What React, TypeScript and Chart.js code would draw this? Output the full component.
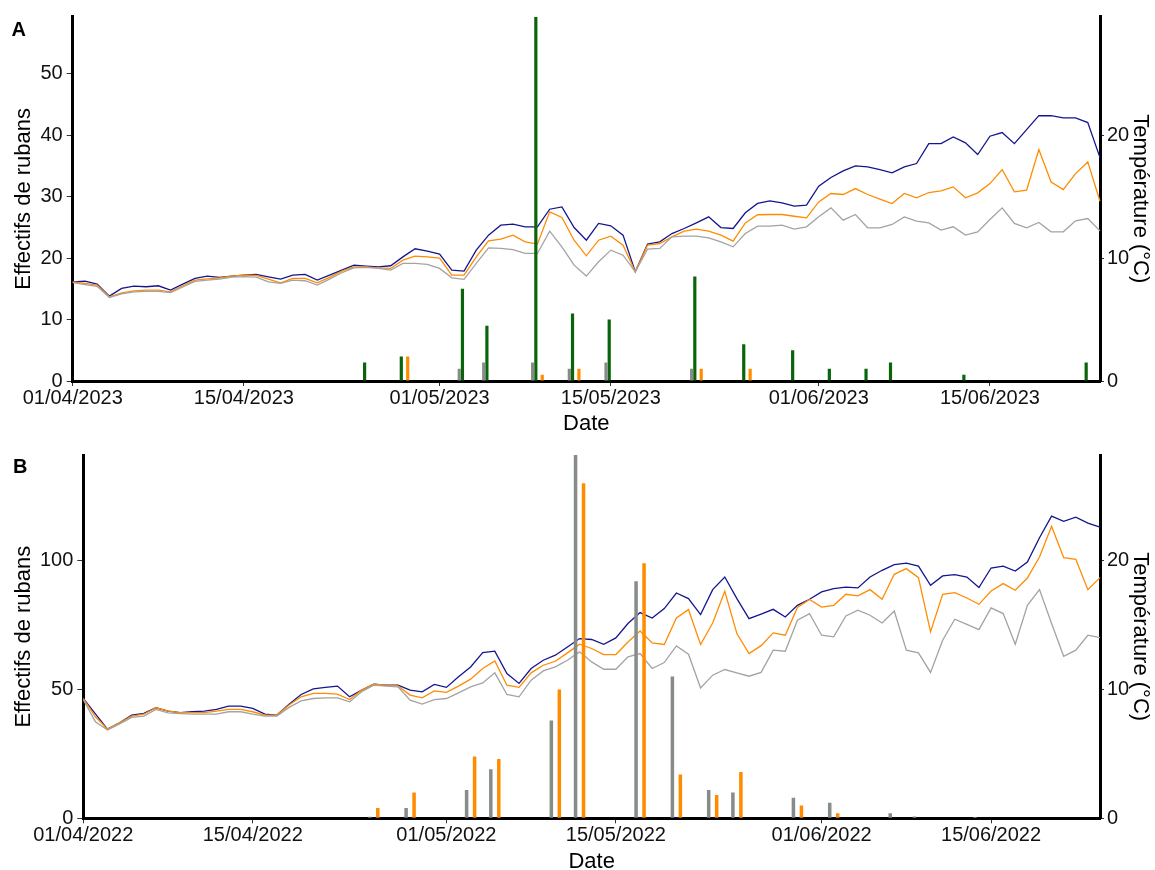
import React, { useEffect, useRef } from 'react';
import { Chart, registerables } from 'chart.js';

Chart.register(...registerables);

const FONT = '"Liberation Sans", Arial, Helvetica, sans-serif';
Chart.defaults.font.family = FONT;

const N_DAYS = 85; // 01/04 .. 24/06

// ---------- Panel A (2023) ----------
const xTicksA = ['01/04/2023', '15/04/2023', '01/05/2023', '15/05/2023', '01/06/2023', '15/06/2023'];

const aTempBlue = [
  8.07, 8.13, 7.89, 6.91, 7.53, 7.72, 7.67, 7.75, 7.40, 7.89,
  8.35, 8.54, 8.43, 8.54, 8.62, 8.67, 8.48, 8.29, 8.62, 8.67,
  8.21, 8.62, 9.02, 9.43, 9.35, 9.29, 9.38, 10.1, 10.76, 10.57,
  10.33, 9.02, 8.94, 10.65, 11.87, 12.68, 12.76, 12.55, 12.55, 13.98,
  14.17, 12.49, 11.46, 12.82, 12.63, 11.87, 8.89, 11.14, 11.33, 12.0,
  12.41, 12.87, 13.36, 12.49, 12.41, 13.69, 14.45, 14.66, 14.50, 14.23,
  14.31, 15.85, 16.56, 17.10, 17.51, 17.43, 17.21, 16.94, 17.43, 17.70,
  19.32, 19.32, 19.86, 19.38, 18.43, 19.92, 20.22, 19.32, 20.46, 21.6,
  21.59, 21.41, 21.41, 21.03, 18.18,
];
const aTempOrange = [
  8.07, 7.94, 7.80, 6.85, 7.18, 7.34, 7.40, 7.40, 7.26, 7.75,
  8.21, 8.32, 8.40, 8.54, 8.62, 8.59, 8.29, 7.99, 8.35, 8.35,
  7.99, 8.43, 8.94, 9.29, 9.29, 9.21, 9.16, 9.84, 10.16, 10.11,
  10.0, 8.62, 8.62, 10.11, 11.41, 11.54, 11.87, 11.33, 11.14, 13.77,
  13.31, 11.46, 10.19, 11.46, 11.79, 11.06, 8.89, 11.06, 11.19, 11.73,
  12.20, 12.36, 12.20, 11.87, 11.38, 12.87, 13.53, 13.55, 13.55, 13.41,
  13.28, 14.58, 15.26, 15.18, 15.66, 15.18, 14.80, 14.44, 15.26, 14.91,
  15.34, 15.47, 15.80, 14.91, 15.31, 16.07, 17.21, 15.39, 15.53, 18.83,
  16.2, 15.58, 16.88, 17.83, 14.63,
];
const aTempGrey = [
  8.0, 7.85, 7.7, 6.8, 7.1, 7.25, 7.3, 7.3, 7.2, 7.65,
  8.1, 8.21, 8.3, 8.45, 8.5, 8.45, 8.07, 7.94, 8.21, 8.16,
  7.80, 8.29, 8.81, 9.21, 9.24, 9.16, 9.02, 9.57, 9.57, 9.49,
  9.16, 8.40, 8.27, 9.57, 10.84, 10.79, 10.70, 10.38, 10.38, 12.20,
  10.92, 9.43, 8.54, 9.70, 10.65, 10.24, 8.89, 10.73, 10.79, 11.73,
  11.79, 11.79, 11.65, 11.33, 10.92, 12.0, 12.6, 12.6, 12.68, 12.36,
  12.55, 13.36, 14.09, 13.09, 13.55, 12.47, 12.47, 12.74, 13.36, 13.01,
  12.87, 12.28, 12.55, 11.87, 12.14, 13.14, 14.09, 12.82, 12.47, 12.90,
  12.14, 12.14, 13.04, 13.22, 12.22,
];

const aGreyDays = ['03/05', '05/05', '09/05', '12/05', '15/05', '22/05'];
const aGreyCounts = [2, 3, 3, 2, 3, 2];
const aGreenDays = ['25/04', '28/04', '03/05', '05/05', '09/05', '12/05', '15/05', '22/05', '26/05', '30/05', '02/06', '05/06', '07/06', '13/06', '23/06'];
const aGreenCounts = [3, 4, 15, 9, 59.3, 11, 10, 17, 6, 5, 2, 2, 3, 1, 3];
const aBlueDays: string[] = [];
const aBlueCounts: number[] = [];
const aOrangeDays = ['28/04', '09/05', '12/05', '22/05', '26/05'];
const aOrangeCounts = [4, 1, 2, 2, 2];

// ---------- Panel B (2022) ----------
const xTicksB = ['01/04/2022', '15/04/2022', '01/05/2022', '15/05/2022', '01/06/2022', '15/06/2022'];

const bTempBlue = [
  9.30, 8.1, 6.92, 7.41, 8.01, 8.14, 8.58, 8.32, 8.21, 8.27,
  8.32, 8.45, 8.71, 8.71, 8.53, 8.08, 8.01, 8.85, 9.61, 10.05,
  10.16, 10.26, 9.43, 9.95, 10.41, 10.33, 10.33, 9.95, 9.82, 10.39,
  10.16, 10.98, 11.75, 12.87, 12.97, 11.24, 10.47, 11.63, 12.27, 12.66,
  13.30, 13.95, 13.88, 13.51, 14.0, 15.12, 15.97, 15.55, 16.28, 17.49,
  17.05, 15.81, 17.75, 18.73, 17.05, 15.50, 15.85, 16.22, 15.63, 16.53,
  17.0, 17.57, 17.83, 17.95, 17.88, 18.73, 19.25, 19.69, 19.81, 19.58,
  18.09, 18.81, 18.91, 18.73, 17.91, 19.43, 19.58, 19.19, 19.89, 21.78,
  23.46, 23.05, 23.38, 22.91, 22.60,
];
const bTempOrange = [
  9.30, 7.88, 6.92, 7.41, 7.93, 8.08, 8.58, 8.32, 8.21, 8.21,
  8.21, 8.32, 8.45, 8.45, 8.27, 8.01, 8.01, 8.79, 9.43, 9.69,
  9.69, 9.64, 9.22, 9.95, 10.41, 10.33, 10.28, 9.56, 9.35, 9.89,
  9.77, 10.26, 10.80, 11.63, 12.22, 10.33, 10.16, 11.29, 11.88, 12.19,
  12.84, 13.51, 13.18, 12.71, 12.71, 13.69, 14.54, 13.61, 13.49, 15.55,
  16.2, 13.49, 15.16, 17.62, 14.34, 12.79, 13.40, 14.39, 14.21, 16.36,
  16.98, 16.40, 16.53, 17.39, 17.26, 17.75, 17.0, 18.94, 19.38, 18.68,
  14.47, 17.39, 17.52, 17.10, 16.61, 17.64, 18.22, 17.70, 18.65, 20.28,
  22.66, 20.23, 20.10, 17.75, 18.68,
];
const bTempGrey = [
  9.20, 7.5, 6.85, 7.33, 7.83, 7.93, 8.45, 8.19, 8.13, 8.08,
  8.08, 8.08, 8.27, 8.27, 8.08, 7.93, 7.93, 8.61, 9.12, 9.30,
  9.35, 9.35, 9.04, 9.82, 10.33, 10.26, 10.2, 9.17, 8.86, 9.22,
  9.30, 9.74, 10.20, 10.51, 11.29, 9.61, 9.43, 10.72, 11.44, 11.75,
  12.27, 12.92, 12.14, 11.57, 11.57, 12.53, 12.79, 11.63, 12.09, 13.38,
  12.74, 10.12, 11.11, 11.55, 11.29, 11.03, 11.33, 13.05, 12.97, 15.37,
  15.89, 14.21, 14.08, 15.71, 16.15, 15.76, 15.16, 16.09, 13.05, 12.84,
  11.32, 13.82, 15.45, 15.06, 14.65, 16.33, 15.89, 13.51, 16.53, 17.75,
  15.12, 12.58, 13.05, 14.21, 14.03,
];

const bGreyDays = ['25/04', '28/04', '03/05', '05/05', '10/05', '12/05', '17/05', '20/05', '23/05', '25/05', '30/05', '02/06', '07/06', '09/06', '14/06'];
const bGreyCounts = [0.6, 4, 11, 19, 38, 141, 92, 55, 11, 10, 8, 6, 2, 0.7, 0.5];
const bBlueDays = ['17/05', '20/05'];
const bBlueCounts = [0.5, 0.5];
const bOrangeDays = ['25/04', '28/04', '03/05', '05/05', '10/05', '12/05', '17/05', '20/05', '23/05', '25/05', '30/05', '02/06'];
const bOrangeCounts = [4, 10, 24, 23, 50, 130, 99, 17, 9, 18, 5, 2];

// ---------- colours ----------
const C_BLUE_LINE = '#15158f';
const C_ORANGE = '#ff8c00';
const C_GREY_LINE = '#a3a3a3';
const C_GREY_BAR = '#868c8a';
const C_GREEN = '#0a650a';
const C_BLUE_BAR = '#15158f';

function pad2(n: number) {
  return n < 10 ? '0' + n : String(n);
}

function dayLabels(year: number): string[] {
  const out: string[] = [];
  for (let i = 0; i < N_DAYS; i++) {
    const d = new Date(Date.UTC(year, 3, 1 + i));
    out.push(`${pad2(d.getUTCDate())}/${pad2(d.getUTCMonth() + 1)}/${year}`);
  }
  return out;
}

function toSeries(labels: string[], days: string[], counts: number[]) {
  const arr: (number | null)[] = labels.map(() => null);
  days.forEach((d, i) => {
    const idx = labels.findIndex((l) => l.startsWith(d + '/'));
    if (idx >= 0) arr[idx] = counts[i];
  });
  return arr;
}

type BarSpec = { days: string[]; counts: number[]; color: string };

type PanelSpec = {
  letter: string;
  letterX: number;
  letterY: number;
  year: number;
  xTicks: string[];
  bars: BarSpec[];
  tempBlue: number[];
  tempOrange: number[];
  tempGrey: number[];
  countMax: number;
  countStep: number;
  ratio: number;
  padTop: number;
  leftW: number;
  xAxisH: number;
  dateTitlePad: number;
  catPct: number;
  barPct: number;
};

function buildConfig(p: PanelSpec): any {
  const labels = dayLabels(p.year);
  const tickIdx = p.xTicks.map((t) => labels.indexOf(t));

  const barSets = p.bars.map((b) => ({
    type: 'bar',
    data: toSeries(labels, b.days, b.counts),
    backgroundColor: b.color,
    borderWidth: 0,
    yAxisID: 'y',
    order: 0,
    categoryPercentage: p.catPct,
    barPercentage: p.barPct,
  }));

  const line = (data: number[], color: string) => ({
    type: 'line',
    data,
    borderColor: color,
    backgroundColor: color,
    borderWidth: 1.3,
    pointRadius: 0,
    pointHoverRadius: 0,
    fill: false,
    tension: 0,
    yAxisID: 'yT',
    order: 1,
  });

  const letterPlugin = {
    id: 'panelLetter',
    afterDraw(chart: any) {
      const ctx = chart.ctx;
      ctx.save();
      ctx.font = `bold 20px ${FONT}`;
      ctx.fillStyle = '#000';
      ctx.textBaseline = 'alphabetic';
      ctx.textAlign = 'left';
      ctx.fillText(p.letter, p.letterX, p.letterY);
      ctx.restore();
    },
  };

  const tickFont = { family: FONT, size: 20, lineHeight: 1 };
  const titleFont = { family: FONT, size: 22, lineHeight: 1 };

  return {
    type: 'bar',
    data: {
      labels,
      datasets: [
        ...barSets,
        line(p.tempGrey, C_GREY_LINE),
        line(p.tempOrange, C_ORANGE),
        line(p.tempBlue, C_BLUE_LINE),
      ],
    },
    options: {
      animation: false,
      responsive: false,
      maintainAspectRatio: false,
      events: [],
      layout: { padding: { top: p.padTop, left: 0, right: 0, bottom: 0 } },
      plugins: { legend: { display: false }, tooltip: { enabled: false } },
      scales: {
        x: {
          type: 'category',
          offset: false,
          grid: {
            display: true,
            offset: false,
            drawOnChartArea: false,
            drawTicks: true,
            tickLength: 5,
            color: '#333',
            lineWidth: 1,
          },
          border: { display: true, color: '#000', width: 3 },
          ticks: {
            autoSkip: false,
            maxRotation: 0,
            minRotation: 0,
            color: '#111',
            font: tickFont,
            padding: 2,
          },
          afterBuildTicks: (scale: any) => {
            scale.ticks = tickIdx.map((i) => ({ value: i }));
          },
          title: {
            display: true,
            text: 'Date',
            color: '#000',
            font: titleFont,
            padding: { top: 0, bottom: p.dateTitlePad },
          },
          afterFit: (scale: any) => {
            scale.height = p.xAxisH;
          },
        },
        y: {
          type: 'linear',
          position: 'left',
          min: 0,
          max: p.countMax,
          ticks: {
            stepSize: p.countStep,
            includeBounds: false,
            color: '#111',
            font: tickFont,
            padding: 4,
          },
          grid: { drawOnChartArea: false, drawTicks: true, tickLength: 6, color: '#333', lineWidth: 1 },
          border: { display: true, color: '#000', width: 3 },
          title: {
            display: true,
            text: 'Effectifs de rubans',
            color: '#000',
            font: titleFont,
            padding: { top: 12.5, bottom: 0 },
          },
          afterFit: (scale: any) => {
            scale.width = p.leftW;
          },
        },
        yT: {
          type: 'linear',
          position: 'right',
          min: 0,
          max: p.countMax / p.ratio,
          ticks: {
            stepSize: 10,
            includeBounds: false,
            color: '#111',
            font: tickFont,
            padding: 3,
          },
          grid: { drawOnChartArea: false, drawTicks: true, tickLength: 4, color: '#333', lineWidth: 1 },
          border: { display: true, color: '#000', width: 3 },
          title: {
            display: true,
            text: 'Température (°C)',
            color: '#000',
            font: titleFont,
            padding: { top: 4, bottom: 0 },
          },
          afterFit: (scale: any) => {
            scale.width = 55;
          },
        },
      },
    },
    plugins: [letterPlugin],
  };
}

const panelA: PanelSpec = {
  letter: 'A',
  letterX: 11.5,
  letterY: 36,
  year: 2023,
  xTicks: xTicksA,
  bars: [
    { days: aGreyDays, counts: aGreyCounts, color: C_GREY_BAR },
    { days: aGreenDays, counts: aGreenCounts, color: C_GREEN },
    { days: aBlueDays, counts: aBlueCounts, color: C_BLUE_BAR },
    { days: aOrangeDays, counts: aOrangeCounts, color: C_ORANGE },
  ],
  tempBlue: aTempBlue,
  tempOrange: aTempOrange,
  tempGrey: aTempGrey,
  countMax: 59.3,
  countStep: 10,
  ratio: 2,
  padTop: 16.7,
  leftW: 72.7,
  xAxisH: 54,
  dateTitlePad: 0,
  catPct: 1.047,
  barPct: 1,
};

const panelB: PanelSpec = {
  letter: 'B',
  letterX: 13,
  letterY: 38,
  year: 2022,
  xTicks: xTicksB,
  bars: [
    { days: bGreyDays, counts: bGreyCounts, color: C_GREY_BAR },
    { days: bBlueDays, counts: bBlueCounts, color: C_BLUE_BAR },
    { days: bOrangeDays, counts: bOrangeCounts, color: C_ORANGE },
  ],
  tempBlue: bTempBlue,
  tempOrange: bTempOrange,
  tempGrey: bTempGrey,
  countMax: 141,
  countStep: 50,
  ratio: 5,
  padTop: 20,
  leftW: 83.3,
  xAxisH: 51.7,
  dateTitlePad: -3,
  catPct: 0.99,
  barPct: 0.88,
};

function Panel({ spec, top }: { spec: PanelSpec; top: number }) {
  const ref = useRef<HTMLCanvasElement | null>(null);
  useEffect(() => {
    if (!ref.current) return;
    const chart = new Chart(ref.current, buildConfig(spec));
    return () => chart.destroy();
  }, [spec]);
  return (
    <canvas
      ref={ref}
      width={1155}
      height={435}
      style={{ position: 'absolute', left: 0, top, width: 1155, height: 435, display: 'block' }}
    />
  );
}

export default function App() {
  return (
    <div style={{ position: 'absolute', left: 0, top: 0, width: 1155, height: 870, background: '#fff', overflow: 'hidden' }}>
      <Panel spec={panelA} top={0} />
      <Panel spec={panelB} top={435} />
    </div>
  );
}
